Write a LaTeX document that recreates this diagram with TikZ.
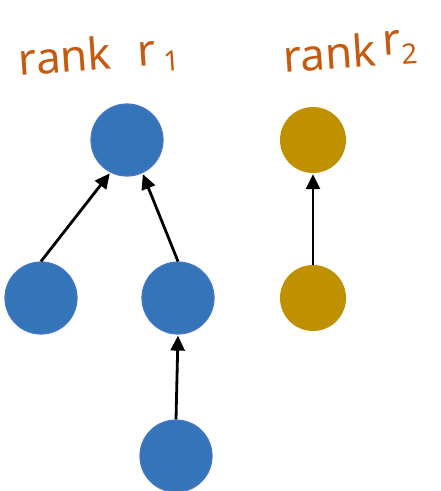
\documentclass[tikz,border=0pt]{standalone}
\usepackage{fontspec}
\newfontfamily\handfont{Noto Sans}
\usepackage{xcolor}
\usetikzlibrary{arrows.meta}
\usetikzlibrary{positioning}

\definecolor{rankblue}{RGB}{51,117,184}
\definecolor{rankedge}{RGB}{72,118,200}
\definecolor{rankgold}{RGB}{191,144,0}
\definecolor{rankink}{RGB}{197,90,17}

% small index next to a rank letter
\newcommand{\rankidx}[2]{\raisebox{#1}{\fontsize{28}{30}\selectfont #2}}

\begin{document}
\begin{tikzpicture}
          [x=1pt, y=1pt, on grid, node distance=158pt,
           bluenode/.style={draw=rankedge, line width=1.2pt, fill=rankblue, circle, minimum size=72pt, inner sep=0pt},
           goldnode/.style={fill=rankgold, circle, minimum size=66pt, inner sep=0pt},
           link/.style={line width=2.8pt, -{Triangle[length=15pt,width=14pt]}, shorten >=1pt},
           ranktext/.style={text=rankink, font=\handfont\fontsize{44}{46}\selectfont, inner sep=0pt}]
          \useasboundingbox (0,0) rectangle (441,-491);

          \node (top) [bluenode] at (127,-140) {};
          \node (l) [bluenode, below left = 158pt and 86pt of top] {};
          \node (m) [bluenode, below right = 158pt and 51pt of top] {};
          \node (b) [bluenode, below = of m, xshift=-2pt] {};
          \node (g1) [goldnode, right = 186pt of top] {};
          \node (g2) [goldnode, below = of g1] {};

          \node (r1) [ranktext, rotate=4] at (99,-56) {rank\hspace{0.6em}r\,\rankidx{-6pt}{1}};
          \node (r2) [ranktext, rotate=4] at (350,-51) {rank\,\raisebox{10pt}{r}\rankidx{0pt}{2}};

          \draw[link] (l.north) -- (top.243);
          \draw[link] (m.north) -- (top.295);
          \draw[link] (b.north) -- (m.south);
          \draw[link] (g2.north) -- (g1.south);
        \end{tikzpicture}
\end{document}
